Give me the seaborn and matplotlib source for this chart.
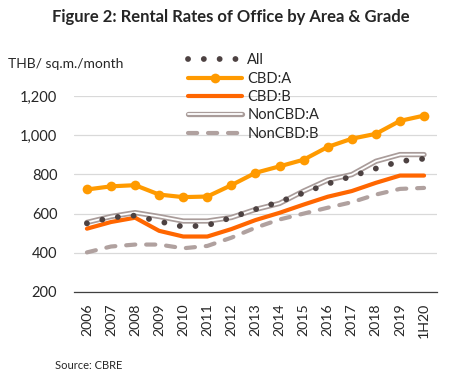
import numpy as np
import pandas as pd
import matplotlib
matplotlib.use("Agg")
import matplotlib.pyplot as plt
import matplotlib.patheffects as pe
import seaborn as sns

# Data (THB / sq.m. / month)
periods = ['2006', '2007', '2008', '2009', '2010', '2011', '2012', '2013',
           '2014', '2015', '2016', '2017', '2018', '2019', '1H20']
all_rate = [550, 580, 590, 560, 533, 540, 580, 622, 660, 706, 752, 791, 830, 867, 880]
cbd_a = [723, 739, 745, 697, 684, 687, 745, 808, 841, 875, 940, 982, 1007, 1073, 1100]
cbd_b = [523, 557, 579, 512, 483, 483, 521, 567, 604, 646, 686, 715, 757, 794, 794]
noncbd_a = [555, 585, 605, 585, 562, 562, 580, 621, 652, 715, 771, 799, 867, 901, 901]
noncbd_b = [402, 432, 442, 442, 423, 435, 477, 528, 570, 600, 630, 658, 697, 726, 731]
y_ticks = [200, 400, 600, 800, 1000, 1200]

sns.set_style("white")
plt.rcParams['font.family'] = ['Lato', 'DejaVu Sans']

df = pd.DataFrame({'period': periods, 'All': all_rate, 'CBD:A': cbd_a,
                   'CBD:B': cbd_b, 'NonCBD:A': noncbd_a, 'NonCBD:B': noncbd_b})

fig = plt.figure(figsize=(4.62, 3.8), dpi=100)
ax = fig.add_axes([0.160, 0.2316, 0.786, 0.5158])

grey = '#a99c9a'

# "All" sits on top of the other lines
sns.lineplot(data=df, x='period', y='All', ax=ax, color='#4d4242', lw=4.2,
             linestyle=(0, (0.01, 2.7)), dash_capstyle='round', label='All',
             sort=False, zorder=5)
sns.lineplot(data=df, x='period', y='CBD:A', ax=ax, color='#ff9a00', lw=3,
             marker='o', markersize=7, markeredgewidth=0, label='CBD:A', sort=False)
sns.lineplot(data=df, x='period', y='CBD:B', ax=ax, color='#ff6600', lw=3,
             label='CBD:B', sort=False)
sns.lineplot(data=df, x='period', y='NonCBD:A', ax=ax, color='white', lw=1.3,
             label='NonCBD:A', sort=False,
             path_effects=[pe.Stroke(linewidth=3.8, foreground=grey), pe.Normal()])
sns.lineplot(data=df, x='period', y='NonCBD:B', ax=ax, color='#b0a19f', lw=3,
             linestyle=(0, (2.2, 2.6)), dash_capstyle='round', label='NonCBD:B', sort=False)

ax.set_ylim(200, 1200)
ax.set_xlim(-0.54, 14.54)
ax.set_yticks(y_ticks)
ax.set_yticklabels([f'{v:,}' for v in y_ticks], fontsize=10.5)
ax.tick_params(axis='x', labelrotation=90, labelsize=10.2, length=0, pad=8)
ax.tick_params(axis='y', length=0, pad=12)
ax.set_xlabel('')
ax.set_ylabel('')
ax.grid(axis='y', color='#d9d9d9', lw=0.9)
ax.grid(axis='x', visible=False)
for s in ['top', 'right', 'left']:
    ax.spines[s].set_visible(False)
ax.spines['bottom'].set_color('#404040')
ax.spines['bottom'].set_linewidth(0.9)

leg = ax.legend(loc='upper left', bbox_to_anchor=(0.295, 1.255), frameon=False,
                fontsize=10.5, handlelength=3.7, handletextpad=0.35, labelspacing=0.3,
                borderpad=0)

fig.text(0.5, 0.955, 'Figure 2: Rental Rates of Office by Area & Grade',
         ha='center', va='center', fontsize=12, fontweight='bold')
fig.text(0.018, 0.832, 'THB/ sq.m./month', ha='left', va='center', fontsize=10)
fig.text(0.12, 0.037, 'Source: CBRE', ha='left', va='center', fontsize=8)

fig.savefig('out.png', dpi=100)
